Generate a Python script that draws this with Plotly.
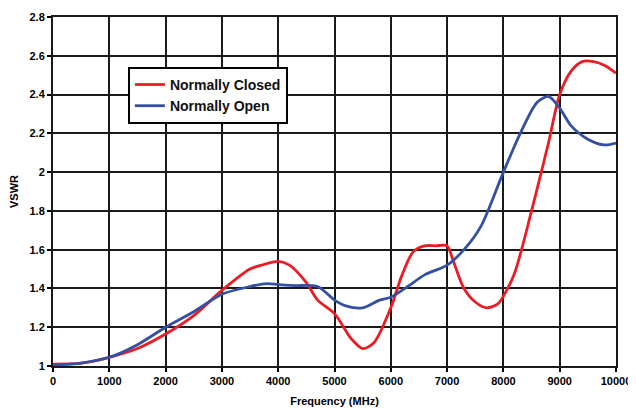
import plotly.graph_objects as go

freq_nc = [0, 500, 1000, 1500, 2000, 2500, 3000, 3500, 3700, 4000, 4200, 4500, 4700, 5000, 5300, 5500, 5700, 6000, 6200, 6400, 6600, 6800, 7000, 7100, 7300, 7500, 7700, 7900, 8000, 8200, 8500, 8800, 9000, 9200, 9400, 9600, 9800, 10000]
vswr_nc = [1.01, 1.015, 1.045, 1.09, 1.165, 1.26, 1.39, 1.50, 1.52, 1.54, 1.52, 1.43, 1.34, 1.27, 1.14, 1.09, 1.12, 1.30, 1.47, 1.59, 1.62, 1.62, 1.62, 1.55, 1.40, 1.33, 1.30, 1.32, 1.36, 1.48, 1.80, 2.15, 2.40, 2.52, 2.57, 2.57, 2.55, 2.51]

freq_no = [0, 500, 1000, 1500, 2000, 2500, 3000, 3500, 3800, 4000, 4300, 4700, 5000, 5200, 5500, 5800, 6000, 6300, 6600, 7000, 7300, 7600, 8000, 8300, 8600, 8800, 9000, 9200, 9500, 9800, 10000]
vswr_no = [1.005, 1.015, 1.045, 1.11, 1.20, 1.28, 1.37, 1.41, 1.425, 1.42, 1.415, 1.41, 1.34, 1.31, 1.30, 1.34, 1.355, 1.41, 1.47, 1.52, 1.60, 1.72, 2.00, 2.20, 2.36, 2.39, 2.33, 2.24, 2.17, 2.14, 2.15]

x_ticks = [0, 1000, 2000, 3000, 4000, 5000, 6000, 7000, 8000, 9000, 10000]
y_ticks = [1, 1.2, 1.4, 1.6, 1.8, 2, 2.2, 2.4, 2.6, 2.8]
y_labels = ["1", "1.2", "1.4", "1.6", "1.8", "2", "2.2", "2.4", "2.6", "2.8"]

fig = go.Figure()
fig.add_trace(go.Scatter(x=freq_nc, y=vswr_nc, mode="lines", name="<b>Normally Closed</b>",
                         line=dict(color="#ec1c24", width=2.8, shape="spline", smoothing=0.8)))
fig.add_trace(go.Scatter(x=freq_no, y=vswr_no, mode="lines", name="<b>Normally Open</b>",
                         line=dict(color="#3550a3", width=2.8, shape="spline", smoothing=0.8)))

font_family = "Liberation Sans, Arial, sans-serif"
fig.update_layout(
    width=628, height=401,
    margin=dict(l=45, r=20, t=9, b=43),
    paper_bgcolor="white", plot_bgcolor="white",
    font=dict(family=font_family, color="black", size=11),
    showlegend=True,
    legend=dict(x=0.133, y=0.857, xanchor="left", yanchor="top",
                bgcolor="white", bordercolor="black", borderwidth=2,
                font=dict(size=14, family=font_family, color="#111"),
                tracegroupgap=0, itemwidth=30),
    xaxis=dict(range=[0, 10000], tickvals=x_ticks, ticktext=[f"<b>{v}</b>" for v in x_ticks],
               showgrid=True, gridcolor="#1a1a1a", gridwidth=2, automargin=False,
               showline=True, linecolor="#1a1a1a", linewidth=2, mirror=True,
               ticks="outside", ticklen=4, tickcolor="black", tickwidth=1.5,
               zeroline=False,
               title=dict(text="<b>Frequency (MHz)</b>", font=dict(size=11), standoff=11)),
    yaxis=dict(range=[1, 2.8], tickvals=y_ticks, ticktext=[f"<b>{t}</b>" for t in y_labels],
               showgrid=True, gridcolor="#1a1a1a", gridwidth=2, automargin=False,
               showline=True, linecolor="#1a1a1a", linewidth=2, mirror=True,
               ticks="outside", ticklen=4, tickcolor="black", tickwidth=1.5,
               zeroline=False,
               title=dict(text="<b>VSWR</b>", font=dict(size=11), standoff=10)),
)

fig.write_html("out.html")
